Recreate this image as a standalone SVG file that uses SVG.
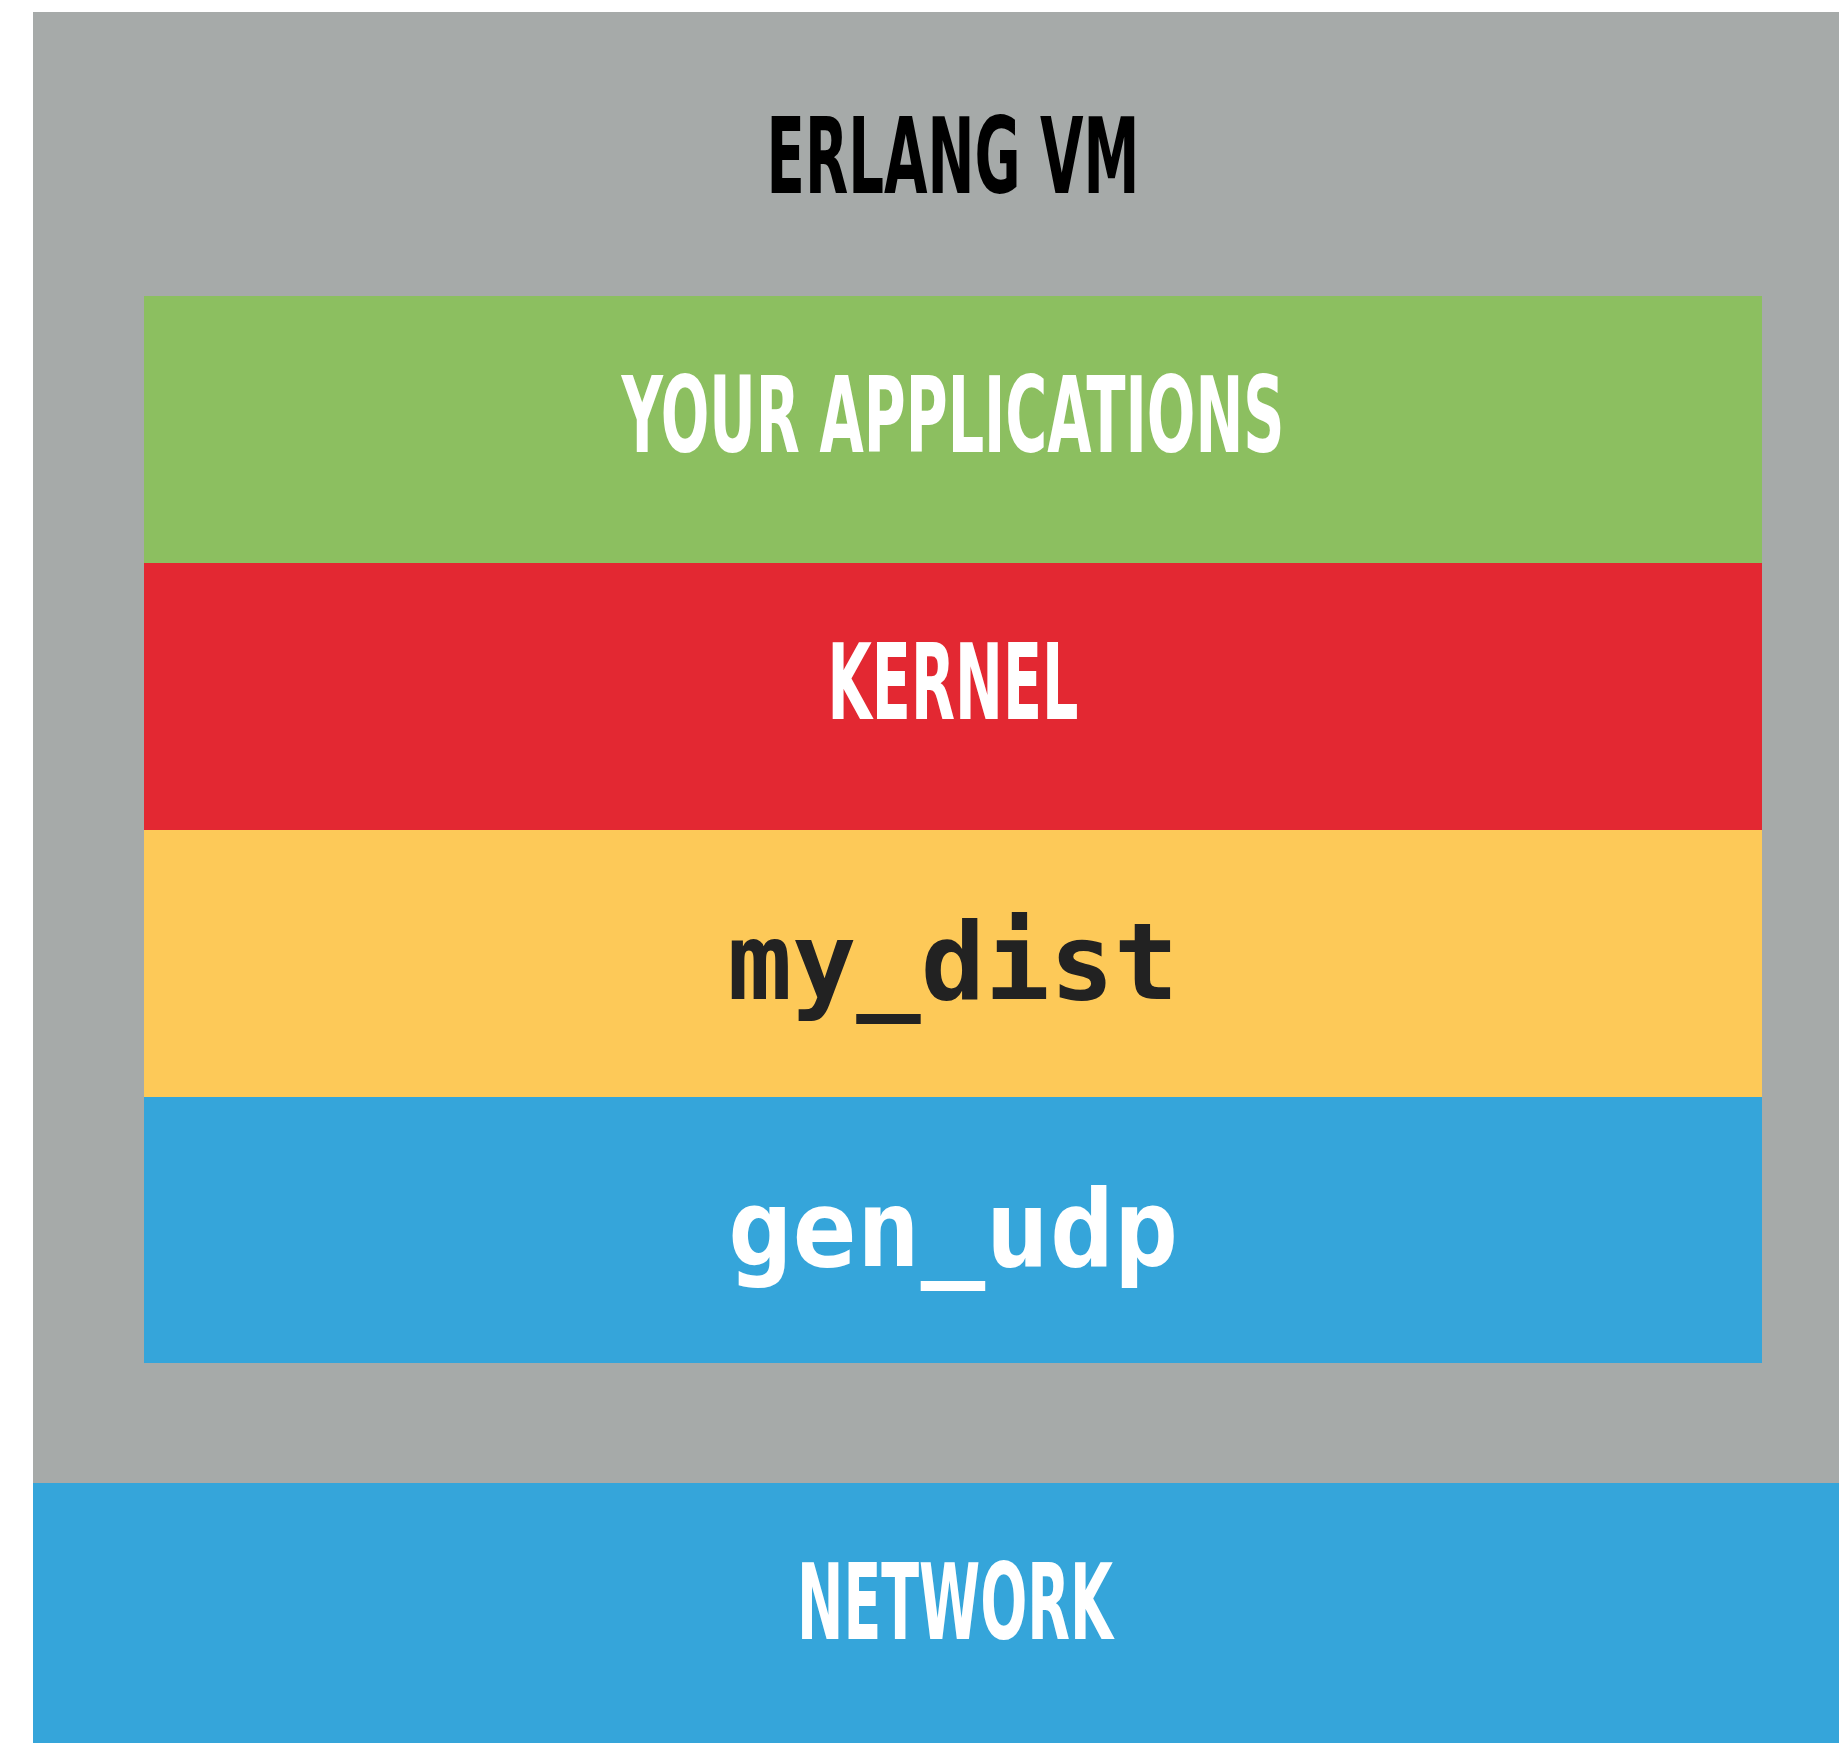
<svg xmlns="http://www.w3.org/2000/svg" width="1839" height="1743" viewBox="0 0 1839 1743">
  <style>
    .cap { font-family: "DejaVu Sans Condensed", "DejaVu Sans", "Liberation Sans Narrow", sans-serif; font-weight: bold; font-size: 106px; text-anchor: middle; }
    .mono { font-family: "DejaVu Sans Mono", "Liberation Mono", monospace; font-weight: bold; font-size: 107px; text-anchor: middle; }
    .white { fill: #ffffff; }
  </style>
  <rect width="1839" height="1743" fill="#ffffff"/>

  <!-- Erlang VM container -->
  <g id="erlang-vm">
    <rect x="33" y="12" width="1806" height="1471" fill="#A6AAA9"/>
    <text class="cap" x="953" y="193" fill="#000000" textLength="373" lengthAdjust="spacingAndGlyphs">ERLANG VM</text>
  </g>

  <!-- Layer stack inside the VM -->
  <g id="your-applications">
    <rect x="144" y="296" width="1618" height="267" fill="#8CBF60"/>
    <text class="cap white" x="953" y="452" textLength="663" lengthAdjust="spacingAndGlyphs">YOUR APPLICATIONS</text>
  </g>

  <g id="kernel">
    <rect x="144" y="563" width="1618" height="267" fill="#E32832"/>
    <text class="cap white" x="953" y="719" textLength="251" lengthAdjust="spacingAndGlyphs">KERNEL</text>
  </g>

  <g id="my-dist">
    <rect x="144" y="830" width="1618" height="267" fill="#FDC958"/>
    <text class="mono" x="953" y="999" fill="#222222">my_dist</text>
  </g>

  <g id="gen-udp">
    <rect x="144" y="1097" width="1618" height="266" fill="#35A5DA"/>
    <text class="mono white" x="953" y="1266">gen_udp</text>
  </g>

  <!-- Network below the VM -->
  <g id="network">
    <rect x="33" y="1483" width="1806" height="260" fill="#35A5DA"/>
    <text class="cap white" x="955" y="1639" textLength="316" lengthAdjust="spacingAndGlyphs">NETWORK</text>
  </g>

  <g id="connectors"/>
</svg>
